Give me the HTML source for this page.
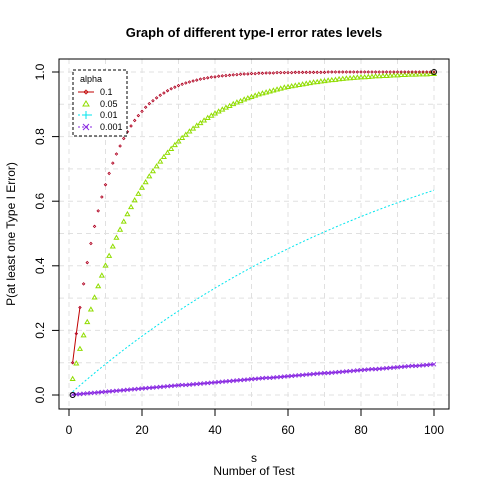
<!DOCTYPE html>
<html><head><meta charset="utf-8"><style>
body{margin:0;background:#fff}
svg{font-family:"Liberation Sans",Arial,sans-serif}
</style></head><body>
<svg id="c" width="480" height="480" viewBox="0 0 480 480">
<text x="254" y="37" text-anchor="middle" font-size="13" font-weight="bold">Graph of different type-I error rates levels</text>
<g id="grid"></g>
<g id="series"></g>
<rect x="59" y="59" width="390" height="350" fill="none" stroke="#000"/>
<g id="axes"></g>
<text x="254" y="462" text-anchor="middle" font-size="12">s</text>
<text x="254" y="475" text-anchor="middle" font-size="12">Number of Test</text>
<text transform="translate(15,234) rotate(-90)" text-anchor="middle" font-size="12">P(at least one Type I Error)</text>
<g>
<rect x="73" y="70" width="54" height="66" fill="#fff" stroke="#000" stroke-dasharray="3,2"/>
<text x="80" y="82" font-size="9">alpha</text>
<line x1="78" y1="92" x2="94" y2="92" stroke="#c00000"/><path d="M86,90 L88,92 L86,94 L84,92Z" fill="none" stroke="#c00000" stroke-width="0.8"/>
<text x="100" y="95" font-size="9">0.1</text>
<path d="M86,101 L89,106 L83,106Z" fill="none" stroke="#90dd00"/>
<text x="100" y="107" font-size="9">0.05</text>
<line x1="78" y1="115" x2="94" y2="115" stroke="#00e5ee" stroke-dasharray="2,2"/><path d="M82,115 H90 M86,111 V119" stroke="#00e5ee"/>
<text x="100" y="118" font-size="9">0.01</text>
<line x1="78" y1="127" x2="94" y2="127" stroke="#8a2be2" stroke-dasharray="2,2"/><path d="M83,124 L89,130 M89,124 L83,130" stroke="#8a2be2"/>
<text x="100" y="130" font-size="9">0.001</text>
</g>
</svg>
<script>
const xTicks=[0,20,40,60,80,100];
const yTicks=[0,0.2,0.4,0.6,0.8,1.0];
const yTickLabels=["0.0","0.2","0.4","0.6","0.8","1.0"];
const sValues=Array.from({length:100},(_,i)=>i+1);
const alpha01=[.1,.19,.271,.344,.41,.469,.522,.57,.613,.651,.686,.718,.746,.771,.794,.815,.833,.85,.865,.878,.891,.902,.911,.92,.928,.935,.942,.948,.953,.958,.962,.966,.969,.972,.975,.978,.98,.982,.984,.985,.987,.988,.989,.99,.991,.992,.993,.994,.994,.995,.995,.996,.996,.997,.997,.997,.998,.998,.998,.998,.998,.999,.999,.999,.999,.999,.999,.999,.999,.999,1,1,1,1,1,1,1,1,1,1,1,1,1,1,1,1,1,1,1,1,1,1,1,1,1,1,1,1,1,1];
const alpha005=[.05,.098,.143,.185,.226,.265,.302,.337,.37,.401,.431,.46,.487,.512,.537,.56,.582,.603,.623,.642,.659,.677,.693,.708,.723,.737,.75,.762,.774,.785,.796,.806,.816,.825,.834,.842,.85,.858,.865,.872,.878,.884,.89,.895,.901,.906,.91,.915,.919,.923,.927,.931,.934,.937,.94,.943,.946,.949,.952,.954,.956,.958,.96,.962,.964,.966,.968,.969,.971,.972,.974,.975,.976,.978,.979,.98,.981,.982,.983,.984,.984,.985,.986,.987,.987,.988,.988,.989,.99,.99,.991,.991,.992,.992,.992,.993,.993,.993,.994,.994];
const alpha001=[.01,.0199,.0297,.0394,.049,.0585,.0679,.0773,.0865,.0956,.1047,.1136,.1225,.1313,.14,.1486,.1571,.1655,.1738,.1821,.1903,.1984,.2064,.2143,.2222,.23,.2377,.2453,.2528,.2603,.2677,.275,.2823,.2894,.2965,.3036,.3105,.3174,.3242,.331,.3377,.3443,.3509,.3574,.3638,.3702,.3765,.3827,.3889,.395,.4011,.4071,.413,.4189,.4247,.4304,.4361,.4418,.4473,.4528,.4583,.4637,.4691,.4744,.4796,.4848,.49,.4951,.5001,.5051,.51,.5149,.5198,.5246,.5293,.534,.5387,.5433,.5479,.5525,.5569,.5614,.5658,.5701,.5744,.5787,.5829,.5871,.5912,.5953,.5993,.6033,.6073,.6112,.6151,.619,.6228,.6265,.6303,.634];
const alpha0001=[.001,.002,.003,.004,.005,.006,.007,.008,.009,.01,.011,.012,.013,.014,.015,.016,.017,.018,.019,.02,.021,.022,.023,.024,.025,.026,.027,.028,.029,.03,.031,.031,.032,.033,.034,.035,.036,.037,.038,.039,.04,.041,.042,.043,.044,.045,.046,.047,.048,.049,.05,.051,.052,.053,.053,.054,.055,.056,.057,.058,.059,.06,.061,.062,.063,.064,.065,.066,.067,.068,.068,.069,.07,.071,.072,.073,.074,.075,.076,.077,.078,.079,.08,.08,.081,.082,.083,.084,.085,.086,.087,.088,.089,.09,.09,.091,.092,.093,.094,.095];

const NS="http://www.w3.org/2000/svg";
const X=v=>69+v*3.65, Y=v=>395-v*323;
function mk(t,a,p){const e=document.createElementNS(NS,t);for(const k in a)e.setAttribute(k,a[k]);p.appendChild(e);return e;}
const grid=document.getElementById('grid'),axes=document.getElementById('axes'),ser=document.getElementById('series');
for(let v=0;v<=100;v+=10){const l=mk('line',{x1:X(v),x2:X(v),y1:59,y2:409,stroke:'#e0e0e0','stroke-dasharray':'5,4'},grid);

}
for(let i=0;i<=10;i++){const l=mk('line',{x1:59,x2:449,y1:Y(i/10),y2:Y(i/10),stroke:'#e0e0e0','stroke-dasharray':'5,4'},grid);

}
mk('line',{x1:X(xTicks[0]),x2:X(xTicks[xTicks.length-1]),y1:409,y2:409,stroke:'#000'},axes);
xTicks.forEach(v=>{mk('line',{x1:X(v),x2:X(v),y1:409,y2:416,stroke:'#000'},axes);
const t=mk('text',{x:X(v),y:434,'text-anchor':'middle','font-size':12},axes);t.textContent=v;

});
mk('line',{x1:59,x2:59,y1:Y(0),y2:Y(1),stroke:'#000'},axes);
yTicks.forEach((v,i)=>{mk('line',{x1:52,x2:59,y1:Y(v),y2:Y(v),stroke:'#000'},axes);
const t=mk('text',{transform:`translate(44,${Y(v)}) rotate(-90)`,'text-anchor':'middle','font-size':12},axes);t.textContent=yTickLabels[i];

});
function pts(a){return sValues.map((s,i)=>X(s)+','+Y(a[i])).join(' ');}
let g=mk('g',{},ser);


mk('polyline',{points:pts(alpha0001),fill:'none',stroke:'#8a2be2','stroke-width':1.5},g);
sValues.forEach((s,i)=>{const x=X(s),y=Y(alpha0001[i]);mk('path',{d:`M${x-2},${y-2}L${x+2},${y+2}M${x+2},${y-2}L${x-2},${y+2}`,stroke:'#8a2be2','stroke-width':0.8},g);});
g=mk('g',{},ser);


mk('polyline',{points:pts(alpha001),fill:'none',stroke:'#00e5ee','stroke-dasharray':'2,2'},g);
g=mk('g',{},ser);


sValues.forEach((s,i)=>{const x=X(s),y=Y(alpha005[i]);mk('path',{d:`M${x},${y-2.2}L${x+2.2},${y+1.6}L${x-2.2},${y+1.6}Z`,fill:'none',stroke:'#90dd00','stroke-width':1},g);});
g=mk('g',{},ser);


mk('polyline',{points:pts(alpha01).split(' ').slice(0,3).join(' '),fill:'none',stroke:'#c00000'},g);
sValues.forEach((s,i)=>{const x=X(s),y=Y(alpha01[i]);mk('path',{d:`M${x},${y-1.2}L${x+1.2},${y}L${x},${y+1.2}L${x-1.2},${y}Z`,fill:'none',stroke:'#b00020','stroke-width':0.8},g);});
[[1,0],[100,1]].forEach(p=>{const c=mk('circle',{cx:X(p[0]),cy:Y(p[1]),r:2.5,fill:'none',stroke:'#000'},ser);

});
</script>
</body></html>
